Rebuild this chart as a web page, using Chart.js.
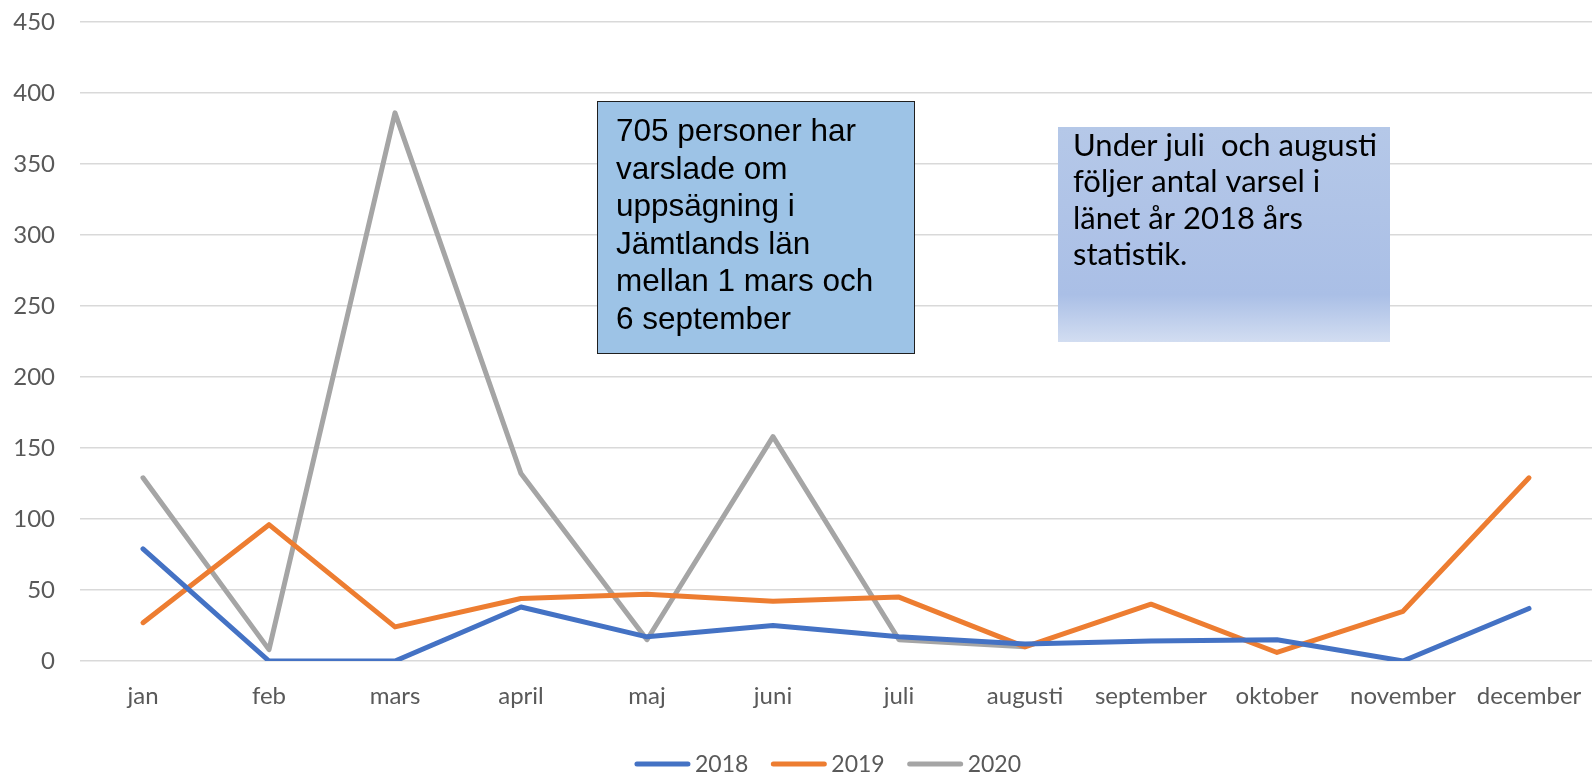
<!DOCTYPE html>
<html>
<head>
<meta charset="utf-8">
<script src="https://cdn.jsdelivr.net/npm/chart.js@4"></script>
<style>
  html, body { margin: 0; padding: 0; background: #fff; }
  #wrap { width: 1592px; height: 776px; }
</style>
</head>
<body>
<div id="wrap"><canvas id="varselChart" width="1592" height="776"></canvas></div>
<script>
const months = ['jan', 'feb', 'mars', 'april', 'maj', 'juni', 'juli', 'augusti', 'september', 'oktober', 'november', 'december'];
const y2018 = [79, 0, 0, 38, 17, 25, 17, 12, 14, 15, 0, 37];
const y2019 = [27, 96, 24, 44, 47, 42, 45, 10, 40, 6, 35, 129];
const y2020 = [129, 8, 386, 132, 15, 158, 15, 10, null, null, null, null];
const yTicks = [0, 50, 100, 150, 200, 250, 300, 350, 400, 450];

const noteLeft = ['705 personer har', 'varslade om', 'uppsägning i', 'Jämtlands län', 'mellan 1 mars och', '6 september'];
const noteRight = ['Under juli  och augusti', 'följer antal varsel i', 'länet år 2018 års', 'statistik.'];

const axisFont = { family: 'Lato, Carlito, sans-serif', size: 24 };

// text boxes on top of the plot
const notesPlugin = {
    id: 'notes',
    afterDraw(chart) {
        const ctx = chart.ctx;
        ctx.save();

        // left box, plain fill + thin border
        ctx.fillStyle = '#9dc3e6';
        ctx.fillRect(597, 101, 317, 252);
        ctx.strokeStyle = '#1f1f1f';
        ctx.lineWidth = 1;
        ctx.strokeRect(597.5, 101.5, 317, 252);
        ctx.fillStyle = '#000';
        ctx.font = '31.5px "Liberation Sans", Arial, sans-serif';
        ctx.textBaseline = 'alphabetic';
        noteLeft.forEach((t, i) => ctx.fillText(t, 616, 141 + i * 37.5));

        // right box, soft gradient, no border
        const g = ctx.createLinearGradient(0, 127, 0, 342);
        g.addColorStop(0, '#b5c8e8');
        g.addColorStop(0.78, '#aabfe6');
        g.addColorStop(1, '#d2ddf1');
        ctx.fillStyle = g;
        ctx.fillRect(1058, 127, 332, 215);
        ctx.fillStyle = '#000';
        ctx.font = '31px Lato, Carlito, sans-serif';
        noteRight.forEach((t, i) => ctx.fillText(t, 1073, 156 + i * 36.4));
        ctx.restore();
    }
};

// legend drawn by hand so it can sit close to the bottom edge
const legendPlugin = {
    id: 'bottomLegend',
    afterDraw(chart) {
        const ctx = chart.ctx;
        const sets = chart.data.datasets;
        const lineLen = 55, gap = 5, itemGap = 23, y = 764;
        ctx.save();
        ctx.font = '23px Lato, Carlito, sans-serif';
        ctx.textBaseline = 'middle';
        const widths = sets.map(d => lineLen + gap + ctx.measureText(d.label).width);
        const total = widths.reduce((a, b) => a + b, 0) + itemGap * (sets.length - 1);
        let x = 828 - total / 2;
        sets.forEach((d, i) => {
            ctx.strokeStyle = d.borderColor;
            ctx.lineWidth = 5;
            ctx.lineCap = 'round';
            ctx.beginPath();
            ctx.moveTo(x + 2, y);
            ctx.lineTo(x + lineLen - 2, y);
            ctx.stroke();
            ctx.fillStyle = '#595959';
            ctx.fillText(d.label, x + lineLen + gap, y + 1);
            x += widths[i] + itemGap;
        });
        ctx.restore();
    }
};

const ds = (label, data, color) => ({
    label, data,
    borderColor: color,
    backgroundColor: color,
    borderWidth: 5,
    borderCapStyle: 'round',
    borderJoinStyle: 'round',
    pointRadius: 0,
    tension: 0,
    spanGaps: false
});

new Chart(document.getElementById('varselChart'), {
    type: 'line',
    data: {
        labels: months,
        datasets: [
            ds('2018', y2018, '#4472c4'),
            ds('2019', y2019, '#ed7d31'),
            ds('2020', y2020, '#a5a5a5')
        ]
    },
    options: {
        responsive: false,
        animation: false,
        layout: { padding: { top: 22, right: 0, bottom: 0, left: 0 } },
        plugins: {
            tooltip: { enabled: false },
            legend: { display: false }
        },
        scales: {
            x: {
                offset: true,
                grid: { display: false, drawTicks: false },
                border: { display: false },
                ticks: { color: '#595959', font: axisFont, padding: 21, maxRotation: 0, autoSkip: false },
                afterFit(scale) {
                    scale.height = 115;
                    scale.paddingLeft = 0;
                    scale.paddingRight = 0;
                }
            },
            y: {
                min: 0,
                max: 450,
                afterBuildTicks(scale) { scale.ticks = yTicks.map(v => ({ value: v })); },
                grid: { color: '#d9d9d9', lineWidth: 1.5, drawTicks: false },
                border: { display: false },
                ticks: { color: '#595959', font: axisFont, padding: 25 },
                afterFit(scale) {
                    scale.width = 80;
                    scale.paddingTop = 0;
                    scale.paddingBottom = 0;
                }
            }
        }
    },
    plugins: [notesPlugin, legendPlugin]
});
</script>
</body>
</html>
